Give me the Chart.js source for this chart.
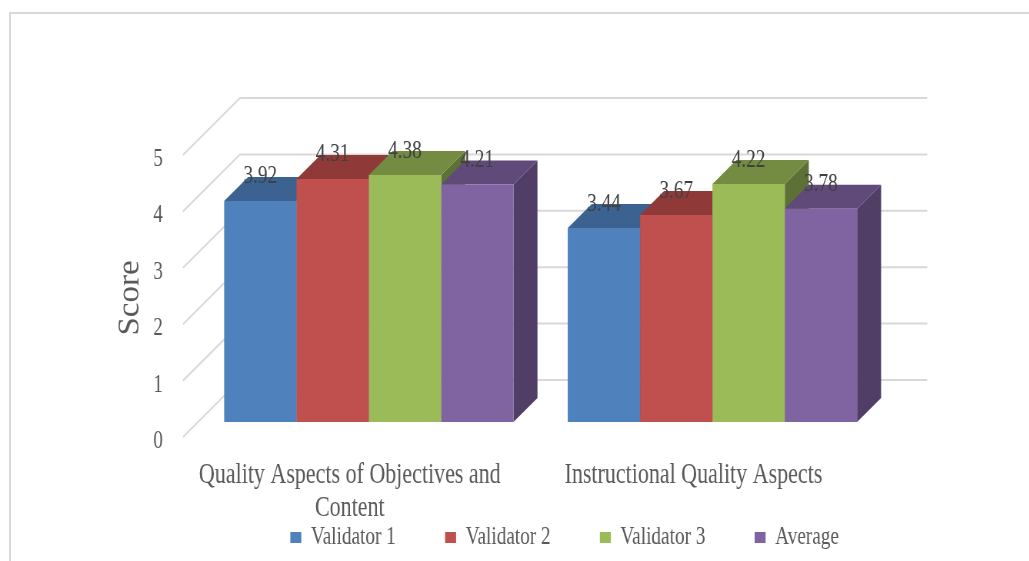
<!DOCTYPE html>
<html><head><meta charset="utf-8">
<style>
html,body{margin:0;padding:0;background:#fff;width:1029px;height:561px;overflow:hidden}
#frame{position:absolute;left:9px;top:12px;width:1030px;height:560px;border-left:2px solid #d9d9d9;border-top:2px solid #d9d9d9}
#wrap{position:absolute;left:100px;top:0;width:929px;height:560px;overflow:visible}
#c{transform:scaleX(0.76923);transform-origin:0 0}
</style>
<script src="https://cdn.jsdelivr.net/npm/chart.js@4/dist/chart.umd.min.js"></script>
</head><body>
<div id="frame"></div>
<div id="wrap"><canvas id="c" width="1208" height="560"></canvas></div>
<script>
const categories = [["Quality Aspects of Objectives and","Content"],["Instructional Quality Aspects"]];
const seriesNames = ["Validator 1","Validator 2","Validator 3","Average"];
const validator1 = [3.92,3.44];
const validator2 = [4.31,3.67];
const validator3 = [4.38,4.22];
const average = [4.21,3.78];
const yTicks = [0,1,2,3,4,5];
const frontColors = ["#4F81BD","#C0504D","#9BBB59","#8064A2"];
const topColors = ["#3B6291","#8F3A38","#748C42","#604A7A"];
const sideColors = ["#2F4E74","#75302E","#5D7035","#503E67"];
const FONT = "'Liberation Serif'";
const K = 1.3;                       // the reference's text is tall and narrow: canvas is squeezed by 1/K in x
const DEPTH = 24, WALL_DX = 57, FRONT_DY = 15;

const box3d = {
  id:'box3d',
  afterLayout(chart){ chart.scales.x.bottom = chart.height; },
  beforeDatasetsDraw(chart){
    const ctx = chart.ctx, xs = chart.scales.x, ys = chart.scales.y;
    ctx.save();
    ctx.strokeStyle = '#d9d9d9'; ctx.lineWidth = 2;
    yTicks.forEach(v=>{
      const p = ys.getPixelForValue(v);
      const lx = xs.left-14*K, bx = lx+WALL_DX*K, by = p+FRONT_DY-WALL_DX;
      ctx.beginPath();
      ctx.moveTo(lx,p+FRONT_DY); ctx.lineTo(bx,by); ctx.lineTo(xs.right+43*K,by);
      ctx.stroke();
    });
    const dx = DEPTH*K;
    for(let c=0;c<categories.length;c++){
      seriesNames.forEach((_,d)=>{
        const b = chart.getDatasetMeta(d).data[c];
        const l = b.x-b.width/2, r = b.x+b.width/2, t = b.y, base = b.base;
        ctx.fillStyle = sideColors[d];
        ctx.beginPath();
        ctx.moveTo(r,base); ctx.lineTo(r+dx,base-DEPTH); ctx.lineTo(r+dx,t-DEPTH); ctx.lineTo(r,t);
        ctx.closePath(); ctx.fill();
        ctx.fillStyle = topColors[d];
        ctx.beginPath();
        ctx.moveTo(l,t); ctx.lineTo(l+dx,t-DEPTH); ctx.lineTo(r+dx,t-DEPTH); ctx.lineTo(r,t);
        ctx.closePath(); ctx.fill();
      });
    }
    ctx.restore();
  },
  afterDatasetsDraw(chart){
    const ctx = chart.ctx;
    ctx.save();
    ctx.font = "25px "+FONT; ctx.fillStyle = '#404040';
    ctx.textAlign='center'; ctx.textBaseline='middle';
    chart.data.datasets.forEach((ds,d)=>{
      chart.getDatasetMeta(d).data.forEach((b,i)=>{
        ctx.fillText(ds.data[i].toFixed(2), b.x, b.y-24);
      });
    });
    ctx.translate(40,298); ctx.rotate(-Math.PI/2); ctx.scale(1,1.2);
    ctx.font = "33px "+FONT; ctx.fillStyle='#595959';
    ctx.fillText("Score",0,0);
    ctx.restore();
  }
};

new Chart(document.getElementById('c'),{
  type:'bar',
  data:{
    labels:categories,
    datasets:[validator1,validator2,validator3,average].map((data,i)=>({
      label:seriesNames[i], data, backgroundColor:frontColors[i], borderWidth:0,
      categoryPercentage:0.842, barPercentage:1
    }))
  },
  plugins:[box3d],
  options:{
    responsive:false, animation:false,
    layout:{padding:{top:140,left:0,right:0,bottom:0}},
    plugins:{
      tooltip:{enabled:false},
      legend:{position:'bottom',labels:{
        font:{family:FONT,size:25},color:'#595959',boxWidth:14.3,boxHeight:11,padding:64
      }}
    },
    scales:{
      x:{
        grid:{display:false},border:{display:false},
        afterFit(s){ s.height = 39; },
        ticks:{font:{family:FONT,size:28.6,lineHeight:1.15},color:'#595959',padding:29,labelOffset:-19*K,maxRotation:0,minRotation:0,autoSkip:false}
      },
      y:{
        min:0,max:5,
        grid:{display:false},border:{display:false},
        afterFit(s){ s.width = 97*K; },
        ticks:{stepSize:1,font:{family:FONT,size:25},color:'#595959',padding:28*K,labelOffset:19.5}
      },
      rightSpace:{
        position:'right',display:true,
        grid:{display:false},border:{display:false},ticks:{display:false},
        afterFit(s){ s.width = 145*K; }
      }
    }
  }
});
</script>
</body></html>
